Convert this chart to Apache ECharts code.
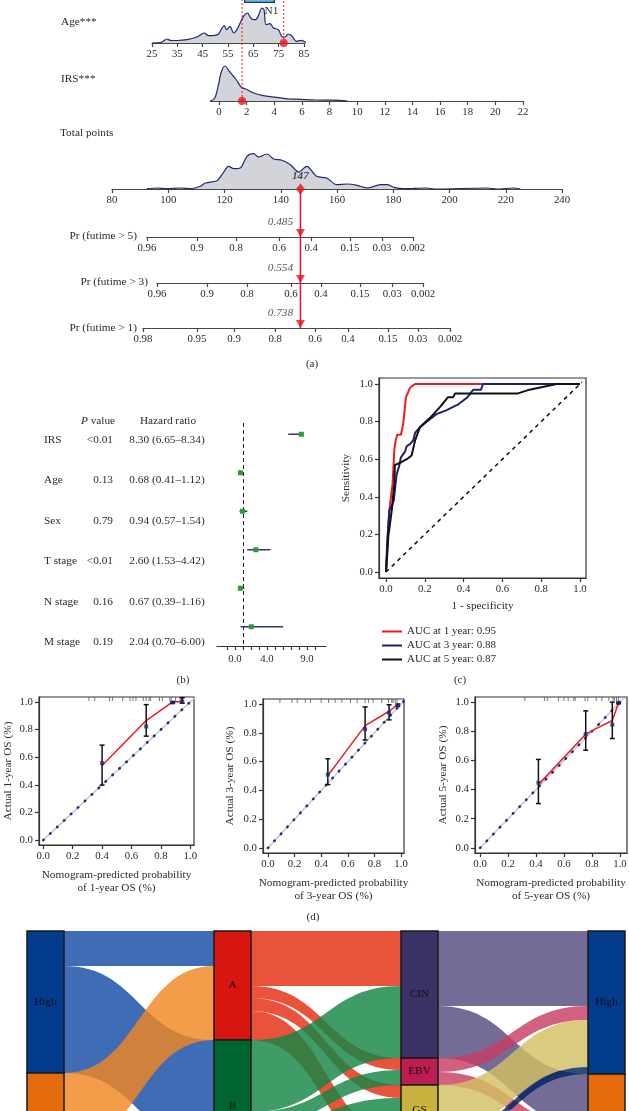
<!DOCTYPE html>
<html><head><meta charset="utf-8">
<script src="https://cdn.jsdelivr.net/npm/echarts@6/dist/echarts.min.js"></script>
<style>html,body{margin:0;padding:0;background:#fff}#c{width:629px;height:1111px}</style>
</head><body><div id="c"></div>
<script>
// ================= DATA =================
// (a) Nomogram
const ageTicks = [25,35,45,55,65,75,85];
const ageDensity = [[25,0],[27,0.2],[29,1],[30.9,4],[32.2,2.7],[35,2.5],[38.8,3.3],[42.7,6],[45.6,10],[47.3,7.3],[49.5,7.5],[51.2,8.7],[52.6,15],[53.5,17.3],[54.5,13.3],[55.8,16.7],[57.2,10],[58.5,13.3],[59.8,20],[61.1,26.7],[62.7,30],[63.7,26],[65,23.3],[66.3,24],[67.4,30],[68.3,35],[69.2,33.3],[70,18.3],[71.6,19.3],[72.9,15],[74.9,13.3],[76.2,6.7],[77.5,6],[78.8,9],[80.1,7.3],[82.1,1.7],[84,2.7],[85.7,0.7],[86.7,0]];
const ageValue = 77;
const irsTicks = [0,2,4,6,8,10,12,14,16,18,20,22];
const irsDensity = [[-0.63,0],[-0.31,2.7],[-0.07,14.3],[0.17,29.3],[0.43,35],[0.77,29.3],[1.26,21],[1.62,13.7],[1.98,11.7],[2.46,8.3],[3.19,5.3],[4.15,3.7],[5.1,2],[5.85,1.7],[7.05,1],[8.3,0.8],[9.3,0]];
const irsValue = 1.67;
const totalDensity = [[92.4,0.3],[96,1],[99.6,0.3],[104.3,1],[107.9,0.3],[111.4,2.7],[113.2,6],[117.3,8.3],[119.1,14.3],[121.5,22.7],[123.3,20.3],[125.6,21],[128,32.7],[130.4,35.3],[132.1,32],[135.1,35],[137.5,30],[140.4,28.7],[143.4,24.3],[146.4,17],[149.2,22.7],[152.8,12.7],[156.3,11],[159.9,4.3],[163.5,5],[167.2,3.7],[170.8,1],[175.5,4.3],[177.8,4.3],[180.2,1.7],[183.7,0.3],[192,1],[194.5,0],[213.3,1],[216.9,0],[222.8,1],[225.2,0]];
const totalValue = 147;
const prNames = ['Pr (futime > 5)','Pr (futime > 3)','Pr (futime > 1)'];
const prValues = [0.485, 0.554, 0.738];
const pr5Labels = ['0.96','0.9','0.8','0.6','0.4','0.15','0.03','0.002'];
const pr5Points = [92.4,110.2,124.1,139.4,150.8,164.6,176.0,187.0];
const pr3Labels = ['0.96','0.9','0.8','0.6','0.4','0.15','0.03','0.002'];
const pr3Points = [96.0,113.8,128.0,143.6,154.3,168.2,179.6,190.6];
const pr1Labels = ['0.98','0.95','0.9','0.8','0.6','0.4','0.15','0.03','0.002'];
const pr1Points = [91.0,110.2,123.4,138.0,152.2,163.9,178.1,188.8,200.2];
const nStageNames = ['N1'];
const nStageStart = [0.14];
const nStageWidth = [0.31];

// (b) Forest plot
const forestVars = ['IRS','Age','Sex','T stage','N stage','M stage'];
const forestP = ['<0.01','0.13','0.79','<0.01','0.16','0.19'];
const forestHR = [8.30,0.68,0.94,2.60,0.67,2.04];
const forestLow = [6.65,0.41,0.57,1.53,0.39,0.70];
const forestHigh = [8.34,1.12,1.54,4.42,1.16,6.00];
const forestTicks = [-1,0,1,2,3,4,5,6,7,8,9,10];
const forestLabelVals = [0,4,9];

// (c) ROC
const rocNames = ['AUC at 1 year: 0.95','AUC at 3 year: 0.88','AUC at 5 year: 0.87'];
const roc1 = [[0,0],[0.005,0.1],[0.012,0.24],[0.02,0.35],[0.034,0.47],[0.043,0.65],[0.05,0.70],[0.058,0.73],[0.077,0.73],[0.089,0.79],[0.103,0.93],[0.124,0.98],[0.15,1.0],[0.5,1.0],[1,1]];
const roc3 = [[0,0],[0.007,0.17],[0.017,0.33],[0.034,0.36],[0.04,0.38],[0.055,0.52],[0.067,0.56],[0.077,0.61],[0.098,0.64],[0.107,0.67],[0.124,0.68],[0.14,0.70],[0.15,0.74],[0.175,0.77],[0.21,0.80],[0.26,0.84],[0.31,0.86],[0.37,0.89],[0.42,0.93],[0.45,0.97],[0.49,0.97],[0.5,1.0],[1,1]];
const roc5 = [[0,0],[0.007,0.1],[0.012,0.19],[0.02,0.19],[0.03,0.33],[0.043,0.47],[0.046,0.57],[0.072,0.58],[0.107,0.60],[0.132,0.62],[0.15,0.70],[0.175,0.77],[0.227,0.82],[0.28,0.88],[0.32,0.93],[0.347,0.93],[0.356,0.95],[0.68,0.95],[0.74,0.97],[0.88,1.0],[1,1]];
const rocTicks = [0,0.2,0.4,0.6,0.8,1.0];

// (d) Calibration
const calYears = [1,3,5];
const cal1Pred = [0.40,0.70,0.88,0.945];
const cal1Obs  = [0.557,0.822,0.995,1.0];
const cal1Lo   = [0.398,0.752,0.99,0.99];
const cal1Hi   = [0.687,0.98,1.0,1.03];
const cal1Red  = [[0.40,0.54],[0.70,0.865],[0.88,1.0],[0.945,1.0]];
const cal1Rug  = [0.31,0.35,0.45,0.47,0.54,0.59,0.61,0.63,0.68,0.70,0.72,0.73,0.79,0.81,0.86,0.87,0.90,0.93,0.94,0.95];
const cal3Pred = [0.45,0.73,0.91,0.975];
const cal3Obs  = [0.51,0.825,0.94,0.99];
const cal3Lo   = [0.44,0.75,0.89,0.985];
const cal3Hi   = [0.62,0.98,0.995,1.0];
const cal3Red  = [[0.45,0.505],[0.505,0.57],[0.73,0.85],[0.91,0.95],[0.98,1.0]];
const cal3Rug  = [0.09,0.18,0.22,0.28,0.32,0.40,0.455,0.505,0.555,0.62,0.67,0.73,0.755,0.79,0.855,0.905,0.93,0.94,0.955,0.97];
const cal5Pred = [0.417,0.755,0.945,0.99];
const cal5Obs  = [0.447,0.78,0.845,0.995];
const cal5Lo   = [0.304,0.67,0.75,0.99];
const cal5Hi   = [0.607,0.94,1.0,1.0];
const cal5Red  = [[0.417,0.434],[0.755,0.78],[0.833,0.82],[0.945,0.874],[0.99,0.995]];
const cal5Rug  = [0.32,0.46,0.48,0.56,0.6,0.63,0.67,0.68,0.75,0.77,0.83,0.87,0.92,0.95,0.96,0.975,0.99];
const calTicks = [0,0.2,0.4,0.6,0.8,1.0];

// (e) Sankey
const sankeyNodes = ['High','Low','A','B','CIN','EBV','GS','MSI','High ','Low '];
const sankeyNodeColors = ['#033b8d','#e46c0c','#d7170f','#006631','#3b3266','#bd1d50','#c9b140','#1d3466','#033b8d','#e46c0c'];
const sankeyLinkColors = {'High':'#154da5','Low':'#f08622','A':'#e42d11','B':'#158644','CIN':'#554b80','EBV':'#c83d63','GS':'#d2c063','MSI':'#00255f'};
const sankeyLinks = [
 ['High','A',35],['High','B',107],['Low','A',74],['Low','B',25],
 ['A','CIN',55],['A','EBV',12],['A','GS',13],['A','MSI',29],
 ['B','CIN',72],['B','EBV',15],['B','GS',37],['B','MSI',8],
 ['CIN','High ',75],['CIN','Low ',52],['EBV','High ',14],['EBV','Low ',13],
 ['GS','High ',47],['GS','Low ',3],['MSI','High ',7],['MSI','Low ',30]
];

// ================= BUILD =================
const FONT = "'Liberation Serif','DejaVu Serif',serif";
const TXT = '#2b2b2b';
const RED = '#e8141c';
const NAVY = '#1e2a6e';
const FS = 11.3;   // titles / table
const FT = 10.8;   // tick labels
const grids=[], xAxis=[], yAxis=[], series=[], graphic=[];
function addGrid(r){ grids.push(Object.assign({show:false, containLabel:false, outerBoundsMode:'none'}, r)); return grids.length-1; }
function hidX(gi,min,max){ xAxis.push({gridIndex:gi,type:'value',min,max,show:false}); }
function hidY(gi,min,max){ yAxis.push({gridIndex:gi,type:'value',min,max,show:false}); }
function nomoX(gi,min,max,ticks,fmt,interval){
  const a={gridIndex:gi,type:'value',min,max,position:'bottom',
    axisLine:{show:true,onZero:false,lineStyle:{color:'#474747',width:1.2}},
    axisTick:{show:true,length:4,lineStyle:{color:'#474747',width:1.2}},
    axisLabel:{color:TXT,fontSize:FT,margin:6,fontFamily:FONT},
    splitLine:{show:false}};
  if(interval) a.interval=interval;
  if(ticks){a.axisTick.customValues=ticks;a.axisLabel.customValues=ticks;}
  if(fmt) a.axisLabel.formatter=fmt;
  xAxis.push(a);
}
function text(str,x,y,align,extra){
  graphic.push({type:'text',x,y,silent:true,style:Object.assign({text:str,fill:TXT,fontFamily:FONT,fontSize:FS,align:align||'left',verticalAlign:'middle'},extra||{})});
}
const ptsPx = p => 112 + (p-80)*450/160;

// ---- Age row
let g = addGrid({left:152,width:152,top:5,height:38});
nomoX(g,25,85,ageTicks);
hidY(g,0,38);
series.push({type:'line',xAxisIndex:g,yAxisIndex:g,data:ageDensity,smooth:0.3,symbol:'none',clip:false,lineStyle:{color:NAVY,width:1.2},areaStyle:{color:'#d3d4da',opacity:1},z:2});
series.push({type:'scatter',xAxisIndex:g,yAxisIndex:g,data:[[ageValue,0]],symbolSize:8,itemStyle:{color:RED},z:6,clip:false});
g = addGrid({left:152,width:152,top:-2,height:45}); hidX(g,25,85); hidY(g,0,1);
series.push({type:'line',xAxisIndex:g,yAxisIndex:g,data:[[ageValue,0],[ageValue,1]],symbol:'none',lineStyle:{color:RED,width:1,type:[2,2]},z:4});

// ---- IRS row
g = addGrid({left:210.3,width:312.7,top:60,height:41});
nomoX(g,-0.63,22,irsTicks);
hidY(g,0,41);
series.push({type:'line',xAxisIndex:g,yAxisIndex:g,data:irsDensity,smooth:0.3,symbol:'none',clip:false,lineStyle:{color:NAVY,width:1.2},areaStyle:{color:'#d3d4da',opacity:1},z:2});
series.push({type:'scatter',xAxisIndex:g,yAxisIndex:g,data:[[irsValue,0]],symbolSize:8,itemStyle:{color:RED},z:6,clip:false});
g = addGrid({left:210.3,width:312.7,top:-2,height:103}); hidX(g,-0.63,22); hidY(g,0,1);
series.push({type:'line',xAxisIndex:g,yAxisIndex:g,data:[[irsValue,0],[irsValue,1]],symbol:'none',lineStyle:{color:RED,width:1,type:[2,2]},z:4});

// ---- N stage box (top, mostly cut)
g = addGrid({left:230,width:100,top:-17,height:20});
xAxis.push({gridIndex:g,type:'value',min:0,max:1,show:false});
yAxis.push({gridIndex:g,type:'category',data:['N'],show:false});
series.push({type:'bar',xAxisIndex:g,yAxisIndex:g,stack:'n',data:nStageStart,barWidth:'100%',itemStyle:{color:'transparent'},silent:true});
series.push({type:'bar',xAxisIndex:g,yAxisIndex:g,stack:'n',data:nStageWidth,barWidth:'100%',itemStyle:{color:'#6ab7d6',borderColor:'#1d3670',borderWidth:1.2},
  label:{show:true,position:'bottom',offset:[12,-2],formatter:()=>nStageNames[0],fontFamily:FONT,fontSize:FS,color:TXT}});
text('N0',317,-4,'center');

// ---- Total points
g = addGrid({left:112,width:450,top:150,height:39});
nomoX(g,80,240,null,null,20);
hidY(g,0,39);
series.push({type:'line',xAxisIndex:g,yAxisIndex:g,data:totalDensity,smooth:0.3,symbol:'none',clip:false,lineStyle:{color:NAVY,width:1.2},areaStyle:{color:'#d3d4da',opacity:1},z:2});
series.push({type:'scatter',xAxisIndex:g,yAxisIndex:g,data:[[totalValue,0]],symbol:'diamond',symbolSize:[9,11],itemStyle:{color:RED},z:6,clip:false,
  label:{show:true,position:'top',distance:2,formatter:p=>String(p.value[0]),fontFamily:FONT,fontSize:FS,fontStyle:'italic',fontWeight:'bold',color:TXT}});
g = addGrid({left:112,width:450,top:189,height:139}); hidX(g,80,240); hidY(g,0,1);
series.push({type:'line',xAxisIndex:g,yAxisIndex:g,data:[[totalValue,0],[totalValue,1]],symbol:'none',lineStyle:{color:RED,width:1.5},z:4});

// ---- Pr rows
const prRows = [[pr5Points,pr5Labels,237],[pr3Points,pr3Labels,283],[pr1Points,pr1Labels,328]];
prRows.forEach(([pts,labs,ay],k)=>{
  const L = ptsPx(pts[0]), R = ptsPx(pts[pts.length-1]);
  const gi = addGrid({left:L,width:R-L,top:ay-20,height:20});
  nomoX(gi,pts[0],pts[pts.length-1],pts,v=>labs[pts.indexOf(v)]);
  hidY(gi,0,1);
  series.push({type:'scatter',xAxisIndex:gi,yAxisIndex:gi,data:[[totalValue,0]],symbol:'triangle',symbolRotate:180,symbolSize:[9,8],symbolOffset:[0,-4],itemStyle:{color:RED},z:6,clip:false,
    label:{show:true,position:'top',distance:1,offset:[-20,0],formatter:()=>prValues[k].toFixed(3),fontFamily:FONT,fontSize:FS,fontStyle:'italic',color:TXT}});
});
text('Age***',61,22); text('IRS***',61,79); text('Total points',60,133);
text(prNames[0],137,236,'right'); text(prNames[1],148,282,'right'); text(prNames[2],137,328,'right');
text('(a)',312,364,'center',{fontSize:11});

// ---- (b) Forest
g = addGrid({left:217,width:109,top:415,height:231});
xAxis.push({gridIndex:g,type:'value',min:-2.25,max:11.375,position:'bottom',
  axisLine:{show:true,onZero:false,lineStyle:{color:'#333',width:1.2}},
  axisTick:{show:true,length:4,customValues:forestTicks,lineStyle:{color:'#333',width:1.2}},
  axisLabel:{customValues:forestLabelVals,formatter:v=>v.toFixed(1),color:TXT,fontSize:FT,margin:8,fontFamily:FONT},
  splitLine:{show:false}});
yAxis.push({gridIndex:g,type:'category',data:forestVars,inverse:true,show:false});
series.push({type:'custom',xAxisIndex:g,yAxisIndex:g,clip:false,z:5,
  data:forestVars.map((v,i)=>[i,forestLow[i],forestHigh[i],forestHR[i]]),
  encode:{x:[1,2,3],y:0},
  renderItem(params,api){
    const i=api.value(0);
    const a=api.coord([api.value(1),i]), b=api.coord([api.value(2),i]), c=api.coord([api.value(3),i]);
    return {type:'group',children:[
      {type:'line',shape:{x1:a[0],y1:a[1],x2:b[0],y2:b[1]},style:{stroke:'#2b3675',lineWidth:1.5}},
      {type:'rect',shape:{x:c[0]-2.5,y:c[1]-2.5,width:5,height:5},style:{fill:'#2f9a3a'}}
    ]};
  },
  markLine:{silent:true,symbol:'none',label:{show:false},lineStyle:{type:[4,3],color:'#222',width:1},data:[[{coord:[1,'IRS'],y:423},{coord:[1,'M stage'],y:646}]]}});
graphic.push({type:'text',x:98,y:421,silent:true,style:{text:'{i|P} value',fill:TXT,fontFamily:FONT,fontSize:FS,align:'center',verticalAlign:'middle',rich:{i:{fontStyle:'italic',fontFamily:FONT,fontSize:FS,fill:TXT}}}});
text('Hazard ratio',168,421,'center');
forestVars.forEach((v,i)=>{
  const y = 440 + i*40.4;
  text(v,44,y,'left');
  text(forestP[i],113,y,'right');
  text(forestHR[i].toFixed(2)+' ('+forestLow[i].toFixed(2)+'\u2013'+forestHigh[i].toFixed(2)+')',167,y,'center');
});
text('(b)',183,680,'center',{fontSize:11});

// ---- (c) ROC
function plotAxisX(gi,min,max,ticks,name,gap){
  xAxis.push({gridIndex:gi,type:'value',min,max,position:'bottom',name,nameLocation:'middle',nameGap:gap,
    nameTextStyle:{fontFamily:FONT,fontSize:FS,color:TXT,lineHeight:13},
    axisLine:{show:true,onZero:false,lineStyle:{color:'#333',width:1.2}},
    axisTick:{show:true,length:4,customValues:ticks,lineStyle:{color:'#333',width:1.2}},
    axisLabel:{customValues:ticks,formatter:v=>v.toFixed(1),color:TXT,fontSize:FT,margin:6,fontFamily:FONT},
    splitLine:{show:false}});
}
function plotAxisY(gi,min,max,ticks,name,gap){
  yAxis.push({gridIndex:gi,type:'value',min,max,position:'left',name,nameLocation:'middle',nameGap:gap,
    nameTextStyle:{fontFamily:FONT,fontSize:FS,color:TXT},
    axisLine:{show:true,onZero:false,lineStyle:{color:'#333',width:1.2}},
    axisTick:{show:true,length:4,customValues:ticks,lineStyle:{color:'#333',width:1.2}},
    axisLabel:{customValues:ticks,formatter:v=>v.toFixed(1),color:TXT,fontSize:FT,margin:6,fontFamily:FONT},
    splitLine:{show:false}});
}
g = addGrid({left:379,width:207,top:378,height:200,show:true,borderColor:'#333',borderWidth:1.2,backgroundColor:'transparent'});
plotAxisX(g,-0.036,1.031,rocTicks,'1 - specificity',22);
plotAxisY(g,-0.032,1.032,rocTicks,'Sensitivity',27);
series.push({type:'line',xAxisIndex:g,yAxisIndex:g,data:[[0,0],[1.01,1.01]],symbol:'none',lineStyle:{color:'#111',width:1.5,type:[4,4]},z:2});
const rocColors = ['#ee1c1c','#1c1f78','#111111'];
[roc1,roc3,roc5].forEach((d,k)=>{
  series.push({type:'line',name:rocNames[k],xAxisIndex:g,yAxisIndex:g,data:d,symbol:'none',lineStyle:{color:rocColors[k],width:2},itemStyle:{color:rocColors[k]},z:3+k});
});
text('(c)',460,680,'center',{fontSize:11});

// ---- (d) Calibration
const calSets = [
  {rect:{left:39,width:155,top:697,height:148},xmin:-0.029,xmax:1.025,pred:cal1Pred,obs:cal1Obs,lo:cal1Lo,hi:cal1Hi,red:cal1Red,rug:cal1Rug,ygap:25},
  {rect:{left:263,width:141,top:699,height:154},xmin:-0.037,xmax:1.022,pred:cal3Pred,obs:cal3Obs,lo:cal3Lo,hi:cal3Hi,red:cal3Red,rug:cal3Rug,ygap:27},
  {rect:{left:475,width:152,top:697,height:156},xmin:-0.036,xmax:1.05,pred:cal5Pred,obs:cal5Obs,lo:cal5Lo,hi:cal5Hi,red:cal5Red,rug:cal5Rug,ygap:26}
];
calSets.forEach((s,k)=>{
  const gi = addGrid(Object.assign({show:true,borderColor:'#333',borderWidth:1.2,backgroundColor:'transparent'},s.rect));
  plotAxisX(gi,s.xmin,s.xmax,calTicks,'Nomogram-predicted probability\nof '+calYears[k]+'-year OS (%)',24);
  plotAxisY(gi,-0.035,1.035,calTicks,'Actual '+calYears[k]+'-year OS (%)',s.ygap);
  series.push({type:'line',xAxisIndex:gi,yAxisIndex:gi,data:[[0,0],[1.03,1.03]],symbol:'none',lineStyle:{color:'#c4c7d2',width:1.5},z:2});
  series.push({type:'line',xAxisIndex:gi,yAxisIndex:gi,data:[[0,0],[1.03,1.03]],symbol:'none',lineStyle:{color:'#1e2a7a',width:2.6,type:[0.5,9],cap:'round'},z:3});
  series.push({type:'line',xAxisIndex:gi,yAxisIndex:gi,data:s.red,symbol:'none',lineStyle:{color:'#ee1c1c',width:1.5},z:5});
  series.push({type:'custom',xAxisIndex:gi,yAxisIndex:gi,z:6,clip:false,
    data:s.pred.map((p,i)=>[p,s.lo[i],s.hi[i]]),encode:{x:0,y:[1,2]},
    renderItem(params,api){
      const a=api.coord([api.value(0),api.value(1)]), b=api.coord([api.value(0),api.value(2)]);
      const st={stroke:'#111',lineWidth:1.5};
      return {type:'group',children:[
        {type:'line',shape:{x1:a[0],y1:a[1],x2:b[0],y2:b[1]},style:st},
        {type:'line',shape:{x1:a[0]-2.5,y1:a[1],x2:a[0]+2.5,y2:a[1]},style:st},
        {type:'line',shape:{x1:b[0]-2.5,y1:b[1],x2:b[0]+2.5,y2:b[1]},style:st}]};
    }});
  series.push({type:'scatter',xAxisIndex:gi,yAxisIndex:gi,data:s.pred.map((p,i)=>[p,s.obs[i]]),symbol:'rect',symbolSize:4,itemStyle:{color:'#1e2a7a'},z:7});
  series.push({type:'scatter',xAxisIndex:gi,yAxisIndex:gi,data:s.rug.map(v=>[v,1.035]),symbol:'rect',symbolSize:[1,4],symbolOffset:[0,2],itemStyle:{color:'#555'},z:4});
});
text('(d)',313,917,'center',{fontSize:11});

// ---- Sankey
series.push({type:'sankey',left:27,right:4,top:931,height:241,nodeWidth:37,nodeGap:0,layoutIterations:0,draggable:false,
  emphasis:{disabled:true},
  data:sankeyNodes.map((n,i)=>({name:n,itemStyle:{color:sankeyNodeColors[i],borderColor:'#1a1a1a',borderWidth:1.5}})),
  links:sankeyLinks.map(([s,t,v])=>({source:s,target:t,value:v,lineStyle:{color:sankeyLinkColors[s]}})),
  lineStyle:{opacity:0.82,curveness:0.5},
  label:{show:true,position:'inside',formatter:p=>p.name.trim(),color:'#111',fontFamily:FONT,fontSize:11.3},
  z:1});

const chart = echarts.init(document.getElementById('c'));
chart.setOption({
  animation:false,
  textStyle:{fontFamily:FONT},
  grid:grids, xAxis, yAxis, series, graphic,
  legend:{data:rocNames,orient:'vertical',left:377,top:621,icon:'rect',itemWidth:20,itemHeight:2,itemGap:3,
    textStyle:{fontFamily:FONT,fontSize:11,color:TXT},selectedMode:false}
});
</script></body></html>
